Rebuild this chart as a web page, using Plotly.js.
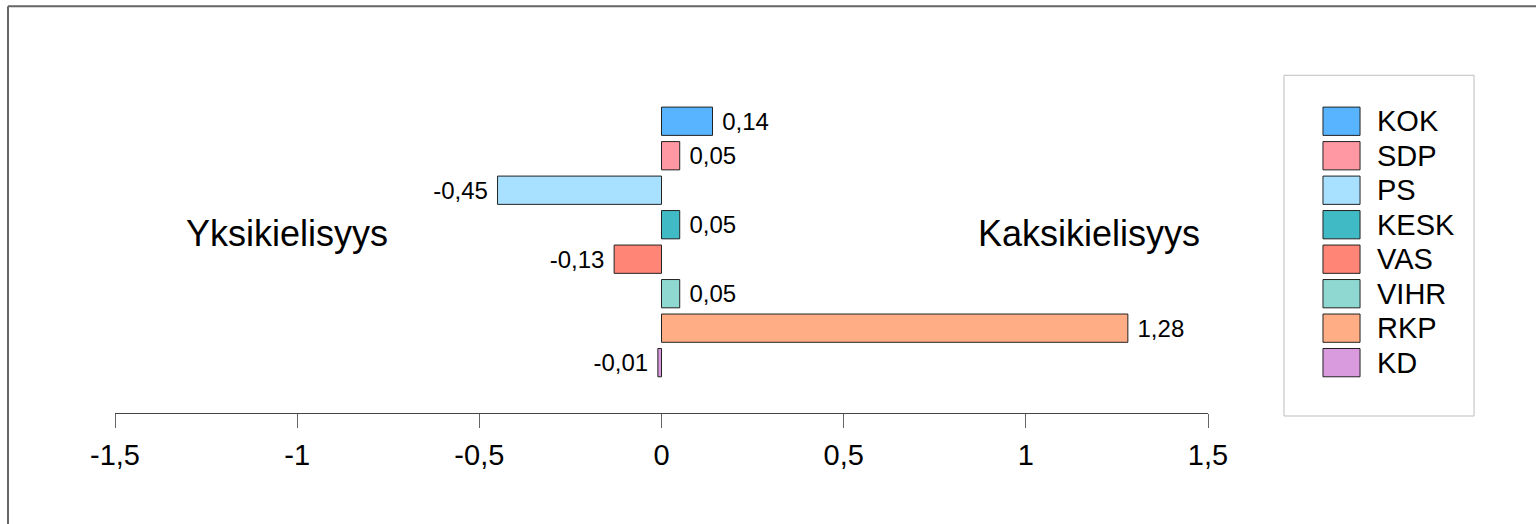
<!DOCTYPE html>
<html>
<head>
<meta charset="utf-8">
<script src="https://cdn.plot.ly/plotly-3.0.1.min.js"></script>
<style>html,body{margin:0;padding:0;background:#fff;overflow:hidden;}#chart{width:1536px;height:524px;}</style>
</head>
<body>
<div id="chart"></div>
<script>
const parties = ['KOK','SDP','PS','KESK','VAS','VIHR','RKP','KD'];
const values = [0.14, 0.05, -0.45, 0.05, -0.13, 0.05, 1.28, -0.01];
const colors = ['#58B4FF','#FF98A2','#A8E0FF','#40BAC4','#FF8577','#8FD8D2','#FFAD84','#D99BDD'];
const tickVals = [-1.5, -1, -0.5, 0, 0.5, 1, 1.5];
const tickText = ['-1,5','-1','-0,5','0','0,5','1','1,5'];
const leftLabel = 'Yksikielisyys';
const rightLabel = 'Kaksikielisyys';

const fmt = v => v.toFixed(2).replace('.', ',');
const labels = values.map(v => v < 0 ? fmt(v) + '\u00A0' : '\u00A0' + fmt(v));

const trace = {
  type: 'bar',
  orientation: 'h',
  y: parties,
  x: values,
  width: 0.82,
  marker: {color: colors, line: {color: '#222', width: 1}},
  text: labels,
  textposition: 'outside',
  constraintext: 'none',
  cliponaxis: false,
  textfont: {family: 'Liberation Sans, Arial, sans-serif', size: 24, color: '#000'},
  hoverinfo: 'skip',
  showlegend: false
};

const shapes = [];
const annotations = [];
// outer frame: top and left edges (right/bottom fall outside the picture)
shapes.push({type:'line', xref:'paper', yref:'paper', x0:-0.0979, x1:1.4, y0:1.316, y1:1.316,
  line:{color:'#666', width:2}, layer:'below'});
shapes.push({type:'line', xref:'paper', yref:'paper', x0:-0.0979, x1:-0.0979, y0:1.316, y1:-0.45,
  line:{color:'#666', width:2}, layer:'below'});
// legend box
shapes.push({type:'rect', xref:'paper', yref:'paper', x0:1.0695, x1:1.2434, y0:-0.0097, y1:1.093,
  line:{color:'#BDBDBD', width:1}, fillcolor:'rgba(0,0,0,0)'});
parties.forEach((p, i) => {
  shapes.push({type:'rect', xref:'paper', yref:'y', x0:1.1052, x1:1.1391, y0:i-0.41, y1:i+0.41,
    fillcolor: colors[i], line:{color:'#222', width:1}});
  annotations.push({xref:'paper', yref:'y', x:1.1525, y:p, text:p, showarrow:false,
    xanchor:'left', yanchor:'middle',
    font:{family:'Liberation Sans, Arial, sans-serif', size:29, color:'#000'}});
});
annotations.push({xref:'x', yref:'paper', x:-1.027, y:0.58, text:leftLabel, showarrow:false,
  xanchor:'center', yanchor:'middle', font:{family:'Liberation Sans, Arial, sans-serif', size:36, color:'#000'}});
annotations.push({xref:'x', yref:'paper', x:1.172, y:0.58, text:rightLabel, showarrow:false,
  xanchor:'center', yanchor:'middle', font:{family:'Liberation Sans, Arial, sans-serif', size:36, color:'#000'}});

const layout = {
  width: 1536, height: 524,
  margin: {l:115, r:328, t:104, b:111, pad:0},
  paper_bgcolor:'#fff', plot_bgcolor:'#fff',
  showlegend:false,
  separators: ', ',
  font: {family:'Liberation Sans, Arial, sans-serif', color:'#000'},
  xaxis: {
    range:[-1.5, 1.5], fixedrange:true,
    showgrid:false, zeroline:false,
    showline:true, linecolor:'#444', linewidth:1,
    ticks:'outside', ticklen:14, tickwidth:1, tickcolor:'#666',
    tickvals: tickVals, ticktext: tickText,
    tickfont:{size:29, color:'#000'},
    ticklabelstandoff: 2
  },
  yaxis: {
    type:'category', categoryorder:'array', categoryarray: parties,
    range:[8.46, -0.5], fixedrange:true,
    showgrid:false, zeroline:false, showline:false, showticklabels:false, ticks:''
  },
  shapes: shapes,
  annotations: annotations
};

Plotly.newPlot('chart', [trace], layout, {displayModeBar:false, staticPlot:true});
</script>
</body>
</html>
